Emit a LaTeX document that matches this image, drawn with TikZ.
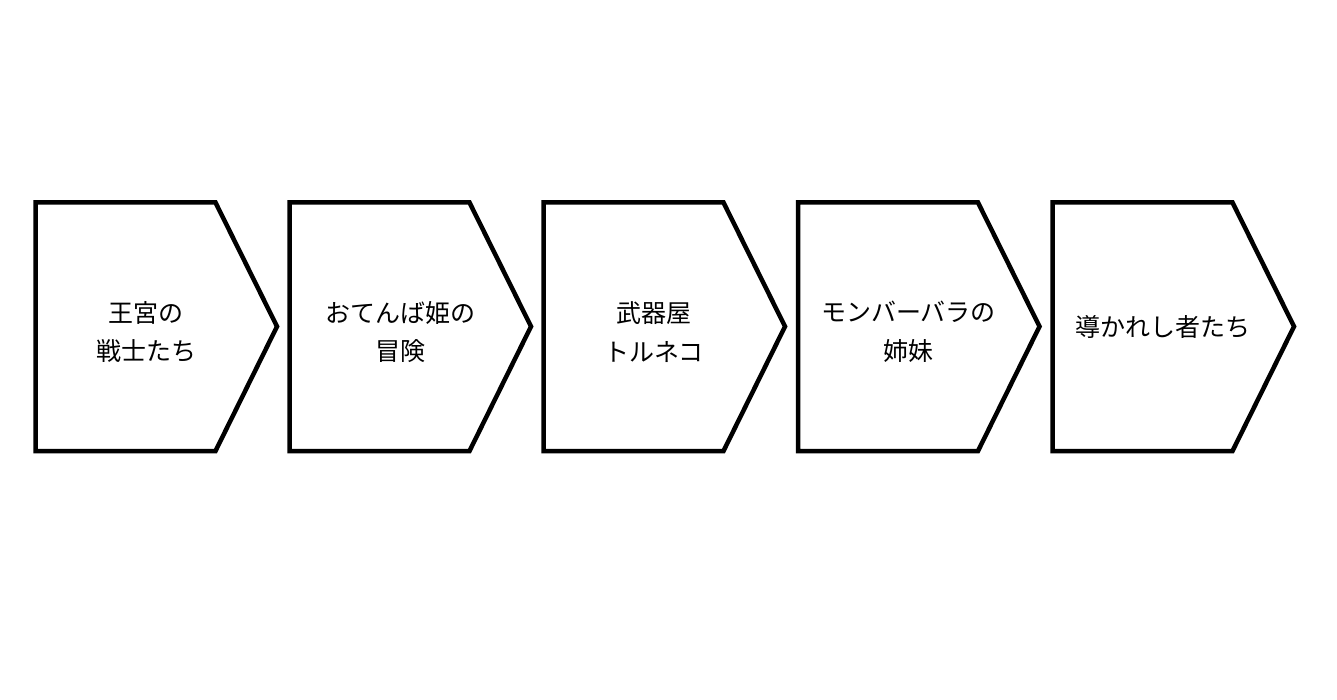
\documentclass[tikz,border=0pt]{standalone}
\usepackage{fontspec}
\newfontfamily\cjk{Noto Sans CJK JP}
\tikzset{
  chev/.style={draw=black, line width=4.5pt, fill=white, line join=miter},
  lbl/.style={font=\cjk\fontsize{25}{38.5}\selectfont, align=center, text=black, inner sep=0pt}
}
\begin{document}
\begin{tikzpicture}[x=1pt,y=-1pt]
\useasboundingbox[fill=white] (0,0) rectangle (1337,700);
\foreach \i/\x in {1/35.5,2/289.5,3/543.5,4/798,5/1052.5}{
  \draw[chev] (\x,202.5) -- ++(180,0) -- ++(61.5,124) -- ++(-61.5,124.5) -- (\x,451) -- cycle;
}
\node[lbl] (t1) at (146,332) {王宮の\\戦士たち};
\node[lbl] (t2) at (400,332) {おてんば姫の\\冒険};
\node[lbl] (t3) at (654,332) {武器屋\\トルネコ};
\node[lbl] (t4) at (908.5,332) {モンバーバラの\\姉妹};
\node[lbl] (t5) at (1163,326.5) {導かれし者たち};
\end{tikzpicture}
\end{document}
